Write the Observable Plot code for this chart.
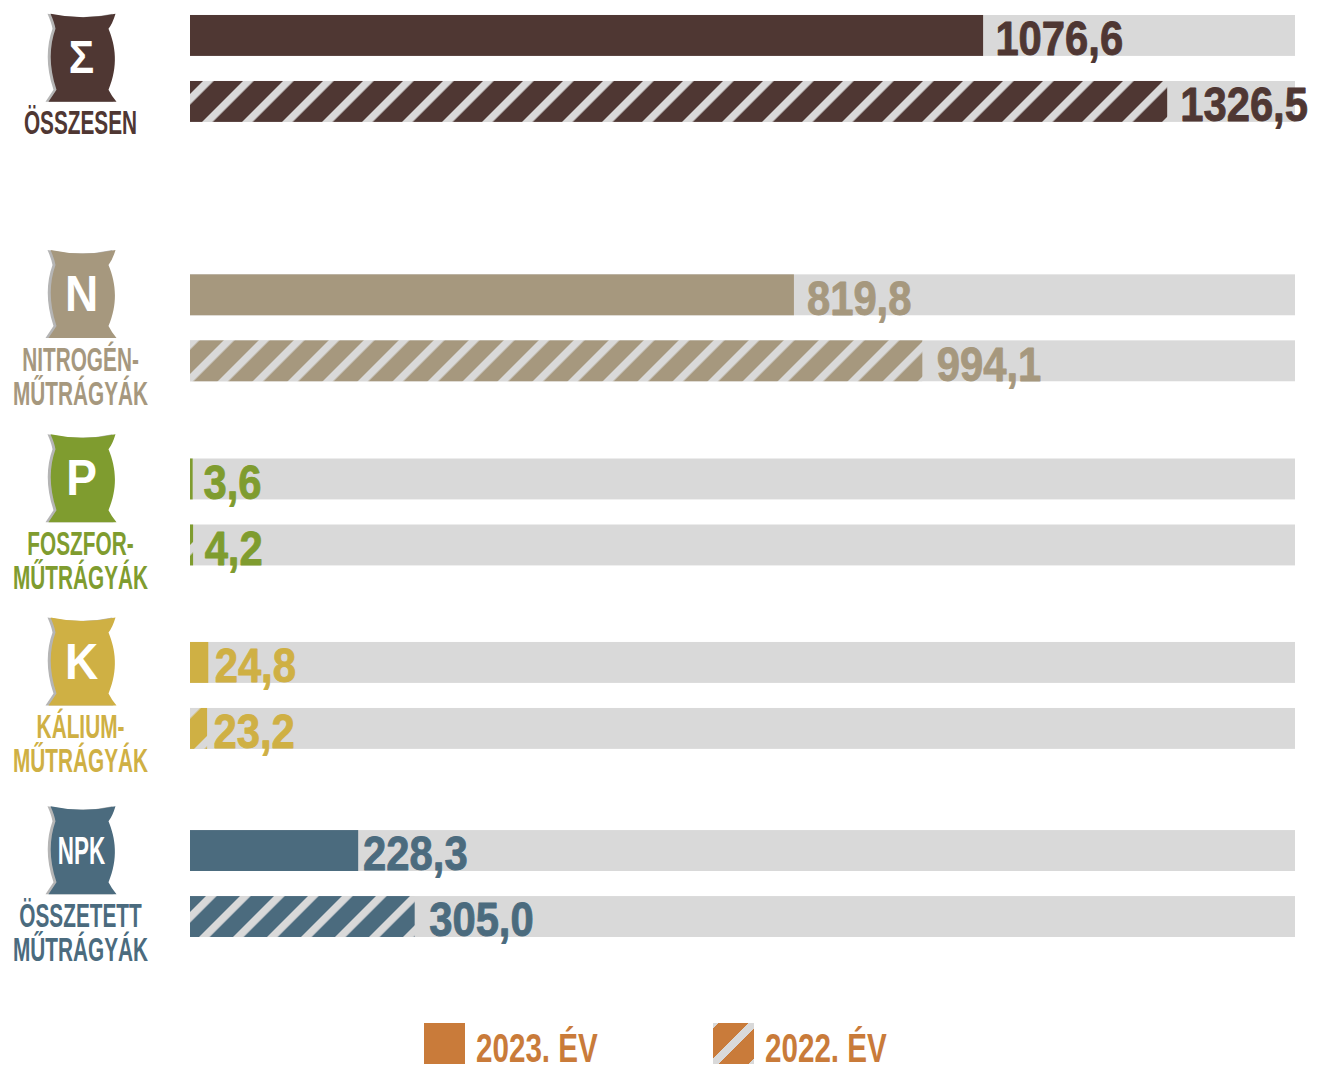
<!DOCTYPE html>
<html lang="hu"><head><meta charset="utf-8">
<script src="https://cdn.jsdelivr.net/npm/d3@7"></script>
<script src="https://cdn.jsdelivr.net/npm/@observablehq/plot@0.6"></script>
<style>
html,body{margin:0;background:#fff;}
#chart svg{display:block}
.legend{position:relative;height:50px;font-family:"Liberation Sans",sans-serif;font-weight:700;color:#c97b3a;font-size:40px;}
.legend i{position:absolute;top:8px;width:41px;height:41px;display:block}
.legend span{position:absolute;top:9px;line-height:48px;white-space:nowrap;transform:scaleX(.74);transform-origin:left center}
</style></head><body>
<div id="chart"></div>
<div class="legend">
<i style="left:424px;background:#c97b3a"></i><span style="left:476px">2023. ÉV</span>
<i style="left:713px;background:linear-gradient(135deg,#d9d9d9 0 4px,#c97b3a 4px 25px,#d9d9d9 25px 33px,#c97b3a 33px 54px,#d9d9d9 54px)"></i><span style="left:765px">2022. ÉV</span>
</div>
<script>
const firstLines = ["ÖSSZESEN","NITROGÉN-","FOSZFOR-","KÁLIUM-","ÖSSZETETT"];
const secondLines = ["","MŰTRÁGYÁK","MŰTRÁGYÁK","MŰTRÁGYÁK","MŰTRÁGYÁK"];
const letters = ["Σ","N","P","K","NPK"];
const values2023 = [1076.6,819.8,3.6,24.8,228.3];
const values2022 = [1326.5,994.1,4.2,23.2,305.0];
const colors = ["#4f3733","#a6987e","#7f9c2f","#cfb044","#4b6b7e"];
const trackMax = 1500;

// layout: slots are multiples of the spacing between the two bars of a pair
const barSlots = [0,3.93,6.72,9.5,12.35];
const iconSlots = [0.64,4.22,7.01,9.79,12.65];
const barThickness = 0.62;
const gaps2023 = [16,17,14,8,6];
const gaps2022 = [17,19,15,8,19];
const letterSizes = [46,50,50,50,38];
// hatch stripe spacing along the bar and first stripe's position at the bar's top edge
const hatchPeriods = [40,35,35,45,34];
const hatchOrigins = [[203,81],[223,341],[211,524],[190,708],[206,896]];

const rows = firstLines.flatMap((g,i)=>[
  {i,year:2023,value:values2023[i],slot:barSlots[i],gap:gaps2023[i]},
  {i,year:2022,value:values2022[i],slot:barSlots[i]+1,gap:gaps2022[i]}
]);
const icons = firstLines.map((g,i)=>({line1:g,line2:secondLines[i],letter:letters[i],slot:iconSlots[i],color:colors[i],size:letterSizes[i]}));
const font = '"Liberation Sans",sans-serif';

const bag = {draw(c,size){
  const k=Math.sqrt(size/Math.PI)/44;
  const p=(x,y)=>[x*k,y*k];
  c.moveTo(...p(-32,-44));
  c.quadraticCurveTo(...p(1,-37),...p(33,-44));
  c.quadraticCurveTo(...p(30,-34),...p(26,-29));
  c.bezierCurveTo(...p(33,-12),...p(36,8),...p(26,32));
  c.quadraticCurveTo(...p(29,38),...p(34,44));
  c.lineTo(...p(-34,44));
  c.quadraticCurveTo(...p(-30,38),...p(-26,32));
  c.bezierCurveTo(...p(-34,8),...p(-33,-12),...p(-27,-29));
  c.quadraticCurveTo(...p(-28,-35),...p(-32,-44));
  c.closePath();
}};

const plot = Plot.plot({
  width:1318,height:1015,margin:0,
  x:{domain:[0,trackMax],range:[190,1295],axis:null},
  y:{domain:[-0.227,15.152],range:[0,1015],axis:null},
  color:{type:"identity"},
  style:{fontFamily:font,background:"#fff"},
  marks:[
    Plot.rect(rows,{x1:0,x2:trackMax,y1:"slot",y2:d=>d.slot+barThickness,fill:"#d9d9d9"}),
    Plot.rect(rows,{x1:0,x2:"value",y1:"slot",y2:d=>d.slot+barThickness,
      fill:d=>d.year===2023?colors[d.i]:`url(#hatch${d.i})`}),
    Plot.text(rows,{x:d=>d.value+d.gap,y:d=>d.slot+barThickness/2+0.06,className:"vals",
      text:d=>d.value.toFixed(1).replace(".",","),textAnchor:"start",
      fill:d=>colors[d.i],stroke:d=>colors[d.i],strokeWidth:0.9,fontSize:48,fontWeight:700}),
    Plot.dot(icons,{frameAnchor:"left",dx:79,y:"slot",r:44,symbol:bag,fill:"#b5b5b5"}),
    Plot.dot(icons,{frameAnchor:"left",dx:82,y:"slot",r:44,symbol:bag,fill:"color"}),
    Plot.text(icons,{frameAnchor:"left",dx:81,dy:1,y:"slot",text:"letter",fill:"#fff",textAnchor:"middle",
      className:"lets",fontWeight:700,fontSize:"size"}),
    Plot.text(icons,{frameAnchor:"left",dx:80,dy:66,y:"slot",text:"line1",fill:"color",textAnchor:"middle",
      className:"labs",fontWeight:700,fontSize:33}),
    Plot.text(icons.filter(d=>d.line2),{frameAnchor:"left",dx:80,dy:100,y:"slot",text:"line2",fill:"color",textAnchor:"middle",
      className:"labs",fontWeight:700,fontSize:33})
  ]
});
const defs=d3.select(plot).insert("defs",":first-child");
colors.forEach((c,i)=>{
  const w=hatchPeriods[i]/Math.SQRT2;
  const [ox,oy]=hatchOrigins[i];
  const p=defs.append("pattern").attr("id",`hatch${i}`).attr("patternUnits","userSpaceOnUse")
    .attr("width",w).attr("height",w).attr("patternTransform",`translate(${ox} ${oy}) rotate(45)`);
  p.append("rect").attr("width",w).attr("height",w).attr("fill",c);
  p.append("rect").attr("width",7.5).attr("height",w).attr("fill","#d9d9d9");
});
document.getElementById("chart").append(plot);
// the installed fonts have no condensed cut: narrow the real text to the reference's widths
function condense(sel,f){
  plot.querySelectorAll(sel).forEach(t=>{
    const k=typeof f==="function"?f(t.textContent):f;
    t.setAttribute("textLength",t.getComputedTextLength()*k);
    t.setAttribute("lengthAdjust","spacingAndGlyphs");
  });
}
condense(".vals text",.87);
condense(".labs text",.63);
condense(".lets text",s=>s==="NPK"?.59:.92);
</script>
</body></html>
